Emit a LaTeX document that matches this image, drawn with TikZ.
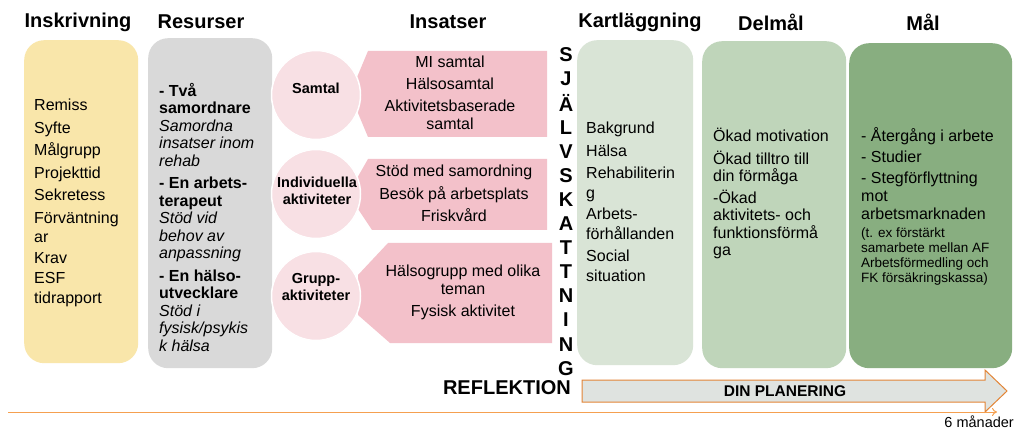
\documentclass[tikz,border=0pt]{standalone}
\usepackage{fontspec}
\setmainfont{Liberation Sans}
\usetikzlibrary{arrows.meta}
\definecolor{yellowc}{HTML}{F9E6AA}
\definecolor{grayc}{HTML}{D9D9D9}
\definecolor{pinkc}{HTML}{F3C1CA}
\definecolor{circc}{HTML}{F8E0E4}
\definecolor{kartc}{HTML}{D9E4D6}
\definecolor{delc}{HTML}{BFD5BA}
\definecolor{malc}{HTML}{88AE80}
\definecolor{arrfill}{HTML}{DFE3E0}
\definecolor{arrline}{HTML}{E38536}
\definecolor{timec}{HTML}{F5A050}
\begin{document}
\begin{tikzpicture}[x=1pt,y=-1pt,
  head/.style={font=\bfseries\fontsize{20}{24}\selectfont, inner sep=0pt},
  body/.style={font=\fontsize{16}{19.5}\selectfont, align=left, inner sep=0pt, anchor=north west},
  colbox/.style={rounded corners=20pt, inner sep=0pt, anchor=north west},
  circlab/.style={font=\bfseries\fontsize{14.5}{17}\selectfont, align=center, inner sep=0pt},
  pinktext/.style={font=\fontsize{16}{18}\selectfont, align=center, inner sep=0pt},
  vletter/.style={font=\bfseries\fontsize{20}{22}\selectfont, inner sep=0pt},
  disc/.style={circle, fill=circc, draw=white, line width=1.5pt, minimum size=89pt, inner sep=0pt}
]
\useasboundingbox (0,0) rectangle (1017,430);
\fill[white] (0,0) rectangle (1017,430);

% headers
\node[head] (h1) at (78,22) {Inskrivning};
\node[head] (h2) at (201,22) {Resurser};
\node[head] (h3) at (448,22) {Insatser};
\node[head] (h4) at (640,22) {Kartläggning};
\node[head] (h5) at (771,22) {Delmål};
\node[head] (h6) at (923,22) {Mål};

% column boxes
\node[colbox, fill=yellowc, minimum width=114pt, minimum height=323pt] (bins) at (24,40) {};
\node[colbox, fill=grayc, minimum width=124pt, minimum height=330pt] (bres) at (148,38) {};
\node[colbox, fill=kartc, minimum width=116pt, minimum height=325pt] (bkart) at (577,40) {};
\node[colbox, fill=delc, minimum width=144pt, minimum height=327pt] (bdel) at (702,41) {};
\node[colbox, fill=malc, minimum width=163pt, minimum height=325pt] (bmal) at (849,43) {};

% Inskrivning text
\node[body] (tins) at (34,99) {Remiss\\[3pt]Syfte\\[3pt]Målgrupp\\[3pt]Projekttid\\[3pt]Sekretess\\[3pt]Förväntning\\ar\\[1pt]Krav\\[1pt]ESF\\tidrapport};

% Resurser text
\node[body, font=\fontsize{16}{17.5}\selectfont] (tres) at (159,83) {%
\textbf{- Två}\\\textbf{samordnare}\\\textit{Samordna}\\\textit{insatser inom}\\\textit{rehab}\\[5pt]%
\textbf{- En arbets-}\\\textbf{terapeut}\\\textit{Stöd vid}\\\textit{behov av}\\\textit{anpassning}\\[5pt]%
\textbf{- En hälso-}\\\textbf{utvecklare}\\\textit{Stöd i}\\\textit{fysisk/psykis}\\\textit{k hälsa}};

% Insatser pentagons
\fill[pinkc] (547,51) -- (368,51) -- (350,94) -- (368,137) -- (547,137) -- cycle;
\fill[pinkc] (547,159) -- (368,159) -- (348,194) -- (372,230) -- (547,230) -- cycle;
\fill[pinkc] (552,243) -- (388,243) -- (358,275) -- (358,315) -- (390,343) -- (552,343) -- cycle;

\node[pinktext] (p1) at (450,93) {MI samtal\\[4pt]Hälsosamtal\\[4pt]Aktivitetsbaserade\\samtal};
\node[pinktext] (p2) at (454,193.5) {Stöd med samordning\\[4.5pt]Besök på arbetsplats\\[4.5pt]Friskvård};
\node[pinktext] (p3) at (463,292) {Hälsogrupp med olika\\teman\\[4pt]Fysisk aktivitet};

% circles
\node[disc] (c1) at (316,95) {};
\node[disc] (c2) at (316,194) {};
\node[disc] (c3) at (316,296) {};
\node[circlab] (l1) at (316,88) {Samtal};
\node[circlab] (l2) at (317,190.5) {Individuella\\aktiviteter};
\node[circlab] (l3) at (316,287) {Grupp-\\aktiviteter};

% SJÄLVSKATTNING
\foreach \ch [count=\i from 0] in {S,J,Ä,L,V,S,K,A,T,T,N,I,N,G}{
  \node[vletter] (v\i) at (566,{55+24.1*\i}) {\ch};
}
\node[font=\bfseries\fontsize{20}{24}\selectfont, inner sep=0pt, anchor=east] (refl) at (571,388) {REFLEKTION};

% Kartläggning text
\node[body, font=\fontsize{16}{19.5}\selectfont] (tkart) at (586,122) {Bakgrund\\[3pt]Hälsa\\[3pt]Rehabiliterin\\g\\[2pt]Arbets-\\förhållanden\\[3pt]Social\\situation};

% Delmål text
\node[body, font=\fontsize{16}{17.5}\selectfont] (tdel) at (713,128) {Ökad motivation\\[5pt]Ökad tilltro till\\din förmåga\\[4pt]-Ökad\\aktivitets- och\\funktionsförmå\\ga};

% Mål text
\node[body, font=\fontsize{16}{18}\selectfont] (tmal) at (861,127) {- Återgång i arbete\\[3pt]- Studier\\[3pt]- Stegförflyttning\\mot\\arbetsmarknaden};
\node[body, font=\fontsize{13.5}{15}\selectfont] (tmal2) at (861,228) {(t. ex förstärkt\\samarbete mellan AF\\Arbetsförmedling och\\FK försäkringskassa)};

% DIN PLANERING arrow
\filldraw[fill=arrfill, draw=arrline, line width=1pt] (582,380) -- (985,380) -- (985,370) -- (1007,391) -- (985,412) -- (985,402) -- (582,402) -- cycle;
\node[font=\bfseries\fontsize{15.5}{18}\selectfont, inner sep=0pt] (din) at (785,391) {DIN PLANERING};

% timeline
\coordinate (t0) at (8,412);
\coordinate (t1) at (997,412);
\draw[timec, line width=1pt, -{To[length=5pt,width=8pt]}] (t0) -- (t1);
\node[font=\fontsize{14.5}{17}\selectfont, inner sep=0pt, anchor=east] (six) at (1014,421.5) {6 månader};
\end{tikzpicture}
\end{document}
